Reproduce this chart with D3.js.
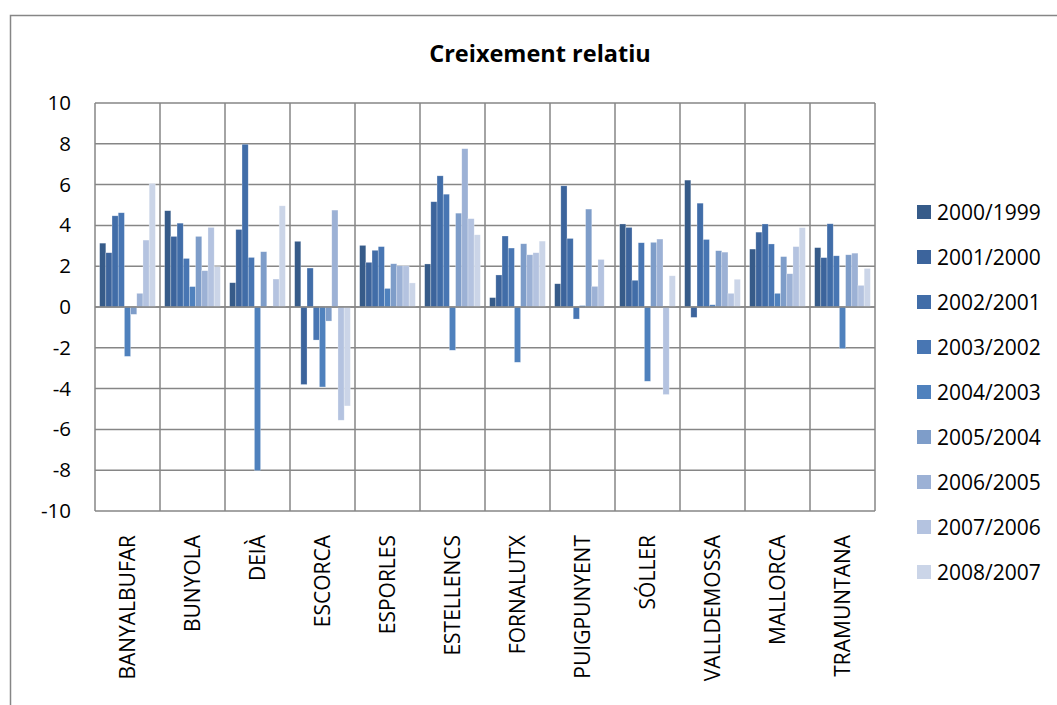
<!DOCTYPE html>
<html>
<head>
<meta charset="utf-8">
<script src="https://cdn.jsdelivr.net/npm/d3@7"></script>
<style>
  html, body { margin: 0; padding: 0; background: #fff; }
  svg { display: block; font-family: "Open Sans", "Liberation Sans", sans-serif; }
</style>
</head>
<body>
<svg id="chart" width="1057" height="705"></svg>
<script>
const categories = ["BANYALBUFAR", "BUNYOLA", "DEIÀ", "ESCORCA", "ESPORLES", "ESTELLENCS",
  "FORNALUTX", "PUIGPUNYENT", "SÓLLER", "VALLDEMOSSA", "MALLORCA", "TRAMUNTANA"];

const seriesNames = ["2000/1999", "2001/2000", "2002/2001", "2003/2002", "2004/2003",
  "2005/2004", "2006/2005", "2007/2006", "2008/2007"];

const s2000_1999 = [3.13, 4.72, 1.19, 3.22, 3.02, 2.11, 0.46, 1.14, 4.07, 6.22, 2.84, 2.91];
const s2001_2000 = [2.66, 3.46, 3.80, -3.80, 2.19, 5.16, 1.57, 5.94, 3.90, -0.51, 3.67, 2.42];
const s2002_2001 = [4.47, 4.11, 7.98, 1.91, 2.78, 6.43, 3.48, 3.36, 1.31, 5.09, 4.07, 4.08];
const s2003_2002 = [4.62, 2.38, 2.43, -1.62, 2.96, 5.53, 2.89, -0.59, 3.15, 3.31, 3.09, 2.51];
const s2004_2003 = [-2.42, 1.00, -8.02, -3.92, 0.91, -2.12, -2.71, 0.07, -3.64, 0.11, 0.67, -2.04];
const s2005_2004 = [-0.36, 3.46, 2.71, -0.69, 2.12, 4.60, 3.10, 4.80, 3.17, 2.76, 2.47, 2.56];
const s2006_2005 = [0.67, 1.78, null, 4.75, 2.02, 7.76, 2.56, 1.01, 3.33, 2.69, 1.63, 2.64];
const s2007_2006 = [3.28, 3.90, 1.37, -5.55, 2.02, 4.33, 2.66, 2.33, -4.29, 0.67, 2.96, 1.06];
const s2008_2007 = [6.06, 1.98, 4.96, -4.85, 1.18, 3.54, 3.23, null, 1.53, 1.36, 3.89, 1.89];

const yTicks = [-10, -8, -6, -4, -2, 0, 2, 4, 6, 8, 10];
const colors = ["#365B89", "#3C649C", "#416DA8", "#4876B3", "#4F81BD", "#7E9DC9", "#9CB1D5", "#B4C3E0", "#CBD5E8"];

const seriesValues = [s2000_1999, s2001_2000, s2002_2001, s2003_2002, s2004_2003,
  s2005_2004, s2006_2005, s2007_2006, s2008_2007];

const svg = d3.select("#chart");
const plot = { left: 95, right: 875, top: 103, bottom: 511 };
const gridColor = "#868686";
const fontFam = "'Open Sans', 'Liberation Sans', sans-serif";

// outer frame (left and top edges visible)
svg.append("path")
  .attr("d", "M10.5,705 V15.5 H1057")
  .attr("fill", "none").attr("stroke", gridColor).attr("stroke-width", 1.5);

// title
svg.append("text")
  .attr("x", 540).attr("y", 62)
  .attr("text-anchor", "middle")
  .attr("font-size", 23.5).attr("font-weight", "bold").attr("fill", "#000")
  .text("Creixement relatiu");

const x = d3.scaleBand().domain(categories).range([plot.left, plot.right]).padding(0);
const xs = d3.scaleBand().domain(d3.range(seriesNames.length)).range([0, x.bandwidth()])
  .paddingInner(0).paddingOuter(0.75);
const y = d3.scaleLinear().domain([-10, 10]).range([plot.bottom, plot.top]);

// horizontal gridlines
svg.append("g").selectAll("line").data(yTicks).join("line")
  .attr("x1", plot.left).attr("x2", plot.right)
  .attr("y1", d => y(d)).attr("y2", d => y(d))
  .attr("stroke", gridColor).attr("stroke-width", 1.5);

// vertical gridlines at category boundaries
const bounds = categories.map(c => x(c)).concat([plot.right]);
svg.append("g").selectAll("line").data(bounds).join("line")
  .attr("x1", d => d).attr("x2", d => d)
  .attr("y1", plot.top).attr("y2", plot.bottom)
  .attr("stroke", gridColor).attr("stroke-width", 1.5);

// bars
const barData = [];
seriesValues.forEach((vals, si) => {
  vals.forEach((v, ci) => {
    if (v !== null) barData.push({ si, cat: categories[ci], v });
  });
});
svg.append("g").selectAll("rect").data(barData).join("rect")
  .attr("x", d => x(d.cat) + xs(d.si))
  .attr("width", xs.bandwidth())
  .attr("y", d => y(Math.max(0, d.v)))
  .attr("height", d => Math.abs(y(d.v) - y(0)))
  .attr("fill", d => colors[d.si])
  .attr("stroke", "rgba(255,255,255,0.45)")
  .attr("stroke-width", 0.6);

// zero line on top
svg.append("line")
  .attr("x1", plot.left).attr("x2", plot.right)
  .attr("y1", y(0)).attr("y2", y(0))
  .attr("stroke", gridColor).attr("stroke-width", 1.5);

// y axis labels
const yAxis = d3.axisLeft(y).tickValues(yTicks).tickSize(0).tickPadding(24).tickFormat(d => String(d));
const gy = svg.append("g").attr("transform", `translate(${plot.left},0)`).call(yAxis);
gy.select(".domain").remove();
gy.selectAll("text").attr("font-size", 20.5).attr("fill", "#000").attr("font-family", fontFam);

// x axis labels (rotated)
const xAxis = d3.axisBottom(x).tickSize(0).tickPadding(0);
const gx = svg.append("g").attr("transform", `translate(0,${plot.bottom})`).call(xAxis);
gx.select(".domain").remove();
gx.selectAll("text")
  .attr("font-size", 21).attr("fill", "#000").attr("font-family", fontFam)
  .attr("text-anchor", "end")
  .attr("transform", "rotate(-90)")
  .attr("x", -24).attr("y", 0).attr("dy", "0.36em");

// legend
const legend = svg.append("g");
const items = legend.selectAll("g").data(seriesNames).join("g")
  .attr("transform", (d, i) => `translate(917,${212 + i * 45})`);
items.append("rect").attr("x", 0).attr("y", -7).attr("width", 14).attr("height", 14)
  .attr("fill", (d, i) => colors[i]);
items.append("text").attr("x", 20).attr("y", 0).attr("dy", "0.36em")
  .attr("font-size", 21).attr("fill", "#000").text(d => d);
</script>
</body>
</html>
